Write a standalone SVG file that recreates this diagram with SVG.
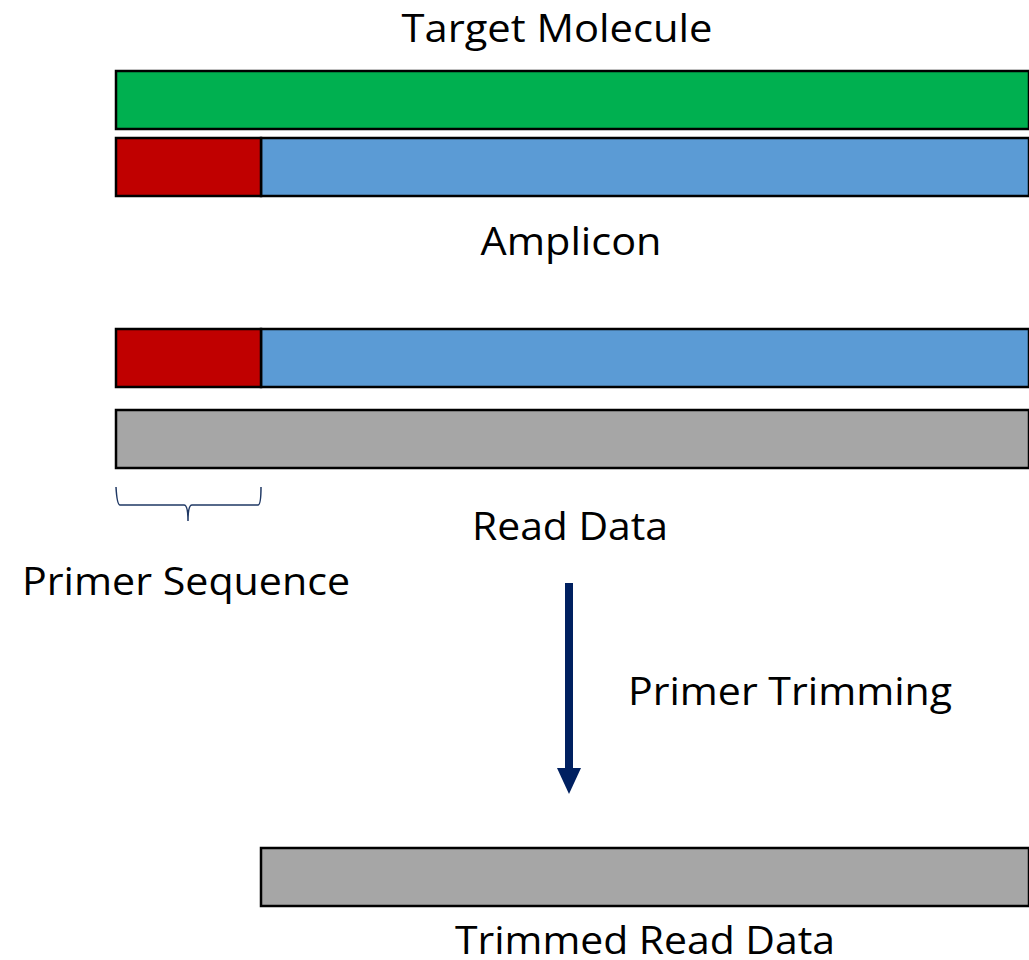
<svg xmlns="http://www.w3.org/2000/svg" width="1029" height="960" viewBox="0 0 1029 960">
<style>
.bar{stroke:#000;stroke-width:2.5}
.lbl{font-family:"Open Sans","Noto Sans","Liberation Sans",sans-serif;font-size:38px;fill:#000;text-anchor:middle}
</style>
<rect width="1029" height="960" fill="#fff"/>
<g id="target-molecule">
<rect class="bar" x="116" y="71" width="913" height="58" fill="#00b050"/>
<text class="lbl" x="557" y="42" textLength="311" lengthAdjust="spacingAndGlyphs">Target Molecule</text>
</g>
<g id="amplicon">
<rect class="bar" x="261" y="138" width="768" height="58" fill="#5b9bd5"/>
<rect class="bar" x="116" y="138" width="145" height="58" fill="#c00000"/>
<text class="lbl" x="571" y="255" textLength="181" lengthAdjust="spacingAndGlyphs">Amplicon</text>
</g>
<g id="read-amplicon">
<rect class="bar" x="261" y="329" width="768" height="58" fill="#5b9bd5"/>
<rect class="bar" x="116" y="329" width="145" height="58" fill="#c00000"/>
</g>
<g id="read-data">
<rect class="bar" x="116" y="410" width="913" height="58" fill="#a6a6a6"/>
<text class="lbl" x="570" y="540" textLength="196" lengthAdjust="spacingAndGlyphs">Read Data</text>
</g>
<g id="primer-sequence">
<path d="M116,487 Q117,505 120,505 L184,505 Q188,505 188,521 Q188,505 192,505 L258,505 Q261,505 261,487" fill="none" stroke="#1f3864" stroke-width="1.5"/>
<text class="lbl" x="186" y="595" textLength="328" lengthAdjust="spacingAndGlyphs">Primer Sequence</text>
</g>
<g id="connectors">
<line x1="569" y1="583" x2="569" y2="770" stroke="#002060" stroke-width="8"/>
<polygon points="557,768 581,768 569,794" fill="#002060"/>
<text class="lbl" x="790" y="705" textLength="324" lengthAdjust="spacingAndGlyphs">Primer Trimming</text>
</g>
<g id="trimmed-read-data">
<rect class="bar" x="261" y="848" width="768" height="58" fill="#a6a6a6"/>
<text class="lbl" x="645" y="954" textLength="380" lengthAdjust="spacingAndGlyphs">Trimmed Read Data</text>
</g>
</svg>
